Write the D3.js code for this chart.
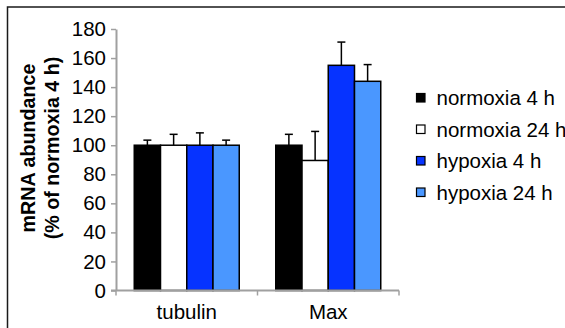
<!DOCTYPE html>
<html>
<head>
<meta charset="utf-8">
<script src="https://cdn.jsdelivr.net/npm/d3@7"></script>
<style>
  html, body { margin: 0; padding: 0; background: #fff; }
  svg { display: block; font-family: "Liberation Sans", Arial, sans-serif; }
</style>
</head>
<body>
<div id="chart"></div>
<script>
// mRNA abundance, % of normoxia 4 h
var categories = ["tubulin", "Max"];
var seriesNames = ["normoxia 4 h", "normoxia 24 h", "hypoxia 4 h", "hypoxia 24 h"];

var normoxia4h  = [100, 100];
var normoxia24h = [100, 89.5];
var hypoxia4h   = [100, 155];
var hypoxia24h  = [100, 144];

var normoxia4hErr  = [3.5, 7.5];
var normoxia24hErr = [7.5, 20];
var hypoxia4hErr   = [8.5, 16];
var hypoxia24hErr  = [3.5, 11.5];

var yTicks = [0, 20, 40, 60, 80, 100, 120, 140, 160, 180];

var seriesValues = [normoxia4h, normoxia24h, hypoxia4h, hypoxia24h];
var seriesErrors = [normoxia4hErr, normoxia24hErr, hypoxia4hErr, hypoxia24hErr];
var fills = ["#000000", "#ffffff", "#0633ff", "#4a97ff"];

var W = 565, H = 328;
var axisColor = "#a0a0a0";
var fontSize = 20.5;
var titleSize = 19.7;

var svg = d3.select("#chart").append("svg")
    .attr("width", W)
    .attr("height", H);

// outer frame (only top and left fall inside the picture)
svg.append("rect")
    .attr("x", 7.5).attr("y", 7)
    .attr("width", W + 20).attr("height", H + 20)
    .attr("fill", "none")
    .attr("stroke", "#1a1a1a")
    .attr("stroke-width", 1.5);

var plot = { left: 116, right: 399, top: 29, bottom: 290.5 };

var y = d3.scaleLinear()
    .domain([0, 180])
    .range([plot.bottom, plot.top]);

var x0 = d3.scaleBand()
    .domain(categories)
    .range([plot.left, plot.right])
    .paddingInner(0.258)
    .paddingOuter(0.129);

var x1 = d3.scaleBand()
    .domain(seriesNames)
    .range([0, x0.bandwidth()]);

// y axis
var yAxis = svg.append("g")
    .attr("transform", "translate(" + plot.left + ",0)")
    .call(d3.axisLeft(y).tickValues(yTicks).tickSize(5).tickPadding(5).tickSizeOuter(0));
yAxis.select(".domain").attr("stroke", axisColor).attr("stroke-width", 2);
yAxis.selectAll(".tick line").attr("stroke", axisColor).attr("stroke-width", 1.5);
yAxis.selectAll(".tick text")
    .attr("font-size", fontSize)
    .attr("font-family", "Liberation Sans, Arial, sans-serif")
    .attr("fill", "#000");

// bars
var groups = svg.append("g").selectAll("g")
    .data(categories)
    .join("g")
    .attr("transform", function (c) { return "translate(" + x0(c) + ",0)"; });

seriesNames.forEach(function (s, si) {
    groups.append("rect")
        .attr("x", x1(s))
        .attr("y", function (c, ci) { return y(seriesValues[si][ci]); })
        .attr("width", x1.bandwidth())
        .attr("height", function (c, ci) { return y(0) - y(seriesValues[si][ci]); })
        .attr("fill", fills[si])
        .attr("stroke", "#000")
        .attr("stroke-width", 1.5);
});

// error bars (upper only)
seriesNames.forEach(function (s, si) {
    groups.each(function (c, ci) {
        var g = d3.select(this);
        var cx = x1(s) + x1.bandwidth() / 2;
        var v = seriesValues[si][ci];
        var top = y(v + seriesErrors[si][ci]);
        g.append("line")
            .attr("x1", cx).attr("x2", cx)
            .attr("y1", y(v)).attr("y2", top)
            .attr("stroke", "#000").attr("stroke-width", 1.5);
        g.append("line")
            .attr("x1", cx - 4).attr("x2", cx + 4)
            .attr("y1", top).attr("y2", top)
            .attr("stroke", "#000").attr("stroke-width", 1.5);
    });
});

// x axis
var xAxis = svg.append("g")
    .attr("transform", "translate(0," + plot.bottom + ")");
xAxis.append("line")
    .attr("x1", plot.left - 5).attr("x2", plot.right)
    .attr("stroke", axisColor).attr("stroke-width", 2);
[0, 1, 2].forEach(function (i) {
    var tx = plot.left + i * x0.step();
    xAxis.append("line")
        .attr("x1", tx).attr("x2", tx)
        .attr("y1", 0).attr("y2", 5)
        .attr("stroke", axisColor).attr("stroke-width", 1.5);
});
xAxis.selectAll("text.cat")
    .data(categories)
    .join("text")
    .attr("class", "cat")
    .attr("x", function (c) { return x0(c) + x0.bandwidth() / 2; })
    .attr("y", 28)
    .attr("text-anchor", "middle")
    .attr("font-size", fontSize)
    .attr("fill", "#000")
    .text(function (c) { return c; });

// y title
var title = svg.append("text")
    .attr("transform", "translate(40,148) rotate(-90)")
    .attr("text-anchor", "middle")
    .attr("font-size", titleSize)
    .attr("font-weight", "bold")
    .attr("fill", "#000");
title.append("tspan").attr("x", 0).attr("dy", "-5").text("mRNA abundance");
title.append("tspan").attr("x", 0).attr("dy", "24").text("(% of normoxia 4 h)");

// legend
var legend = svg.append("g")
    .attr("transform", "translate(416,98)");
var item = legend.selectAll("g")
    .data(seriesNames)
    .join("g")
    .attr("transform", function (d, i) { return "translate(0," + (i * 31.5) + ")"; });
item.append("rect")
    .attr("x", 0.5).attr("y", -4.5)
    .attr("width", 8.5).attr("height", 8.5)
    .attr("fill", function (d, i) { return fills[i]; })
    .attr("stroke", "#000")
    .attr("stroke-width", 1.2);
item.append("text")
    .attr("x", 20.5)
    .attr("y", 7)
    .attr("font-size", fontSize)
    .attr("fill", "#000")
    .text(function (d) { return d; });
</script>
</body>
</html>
